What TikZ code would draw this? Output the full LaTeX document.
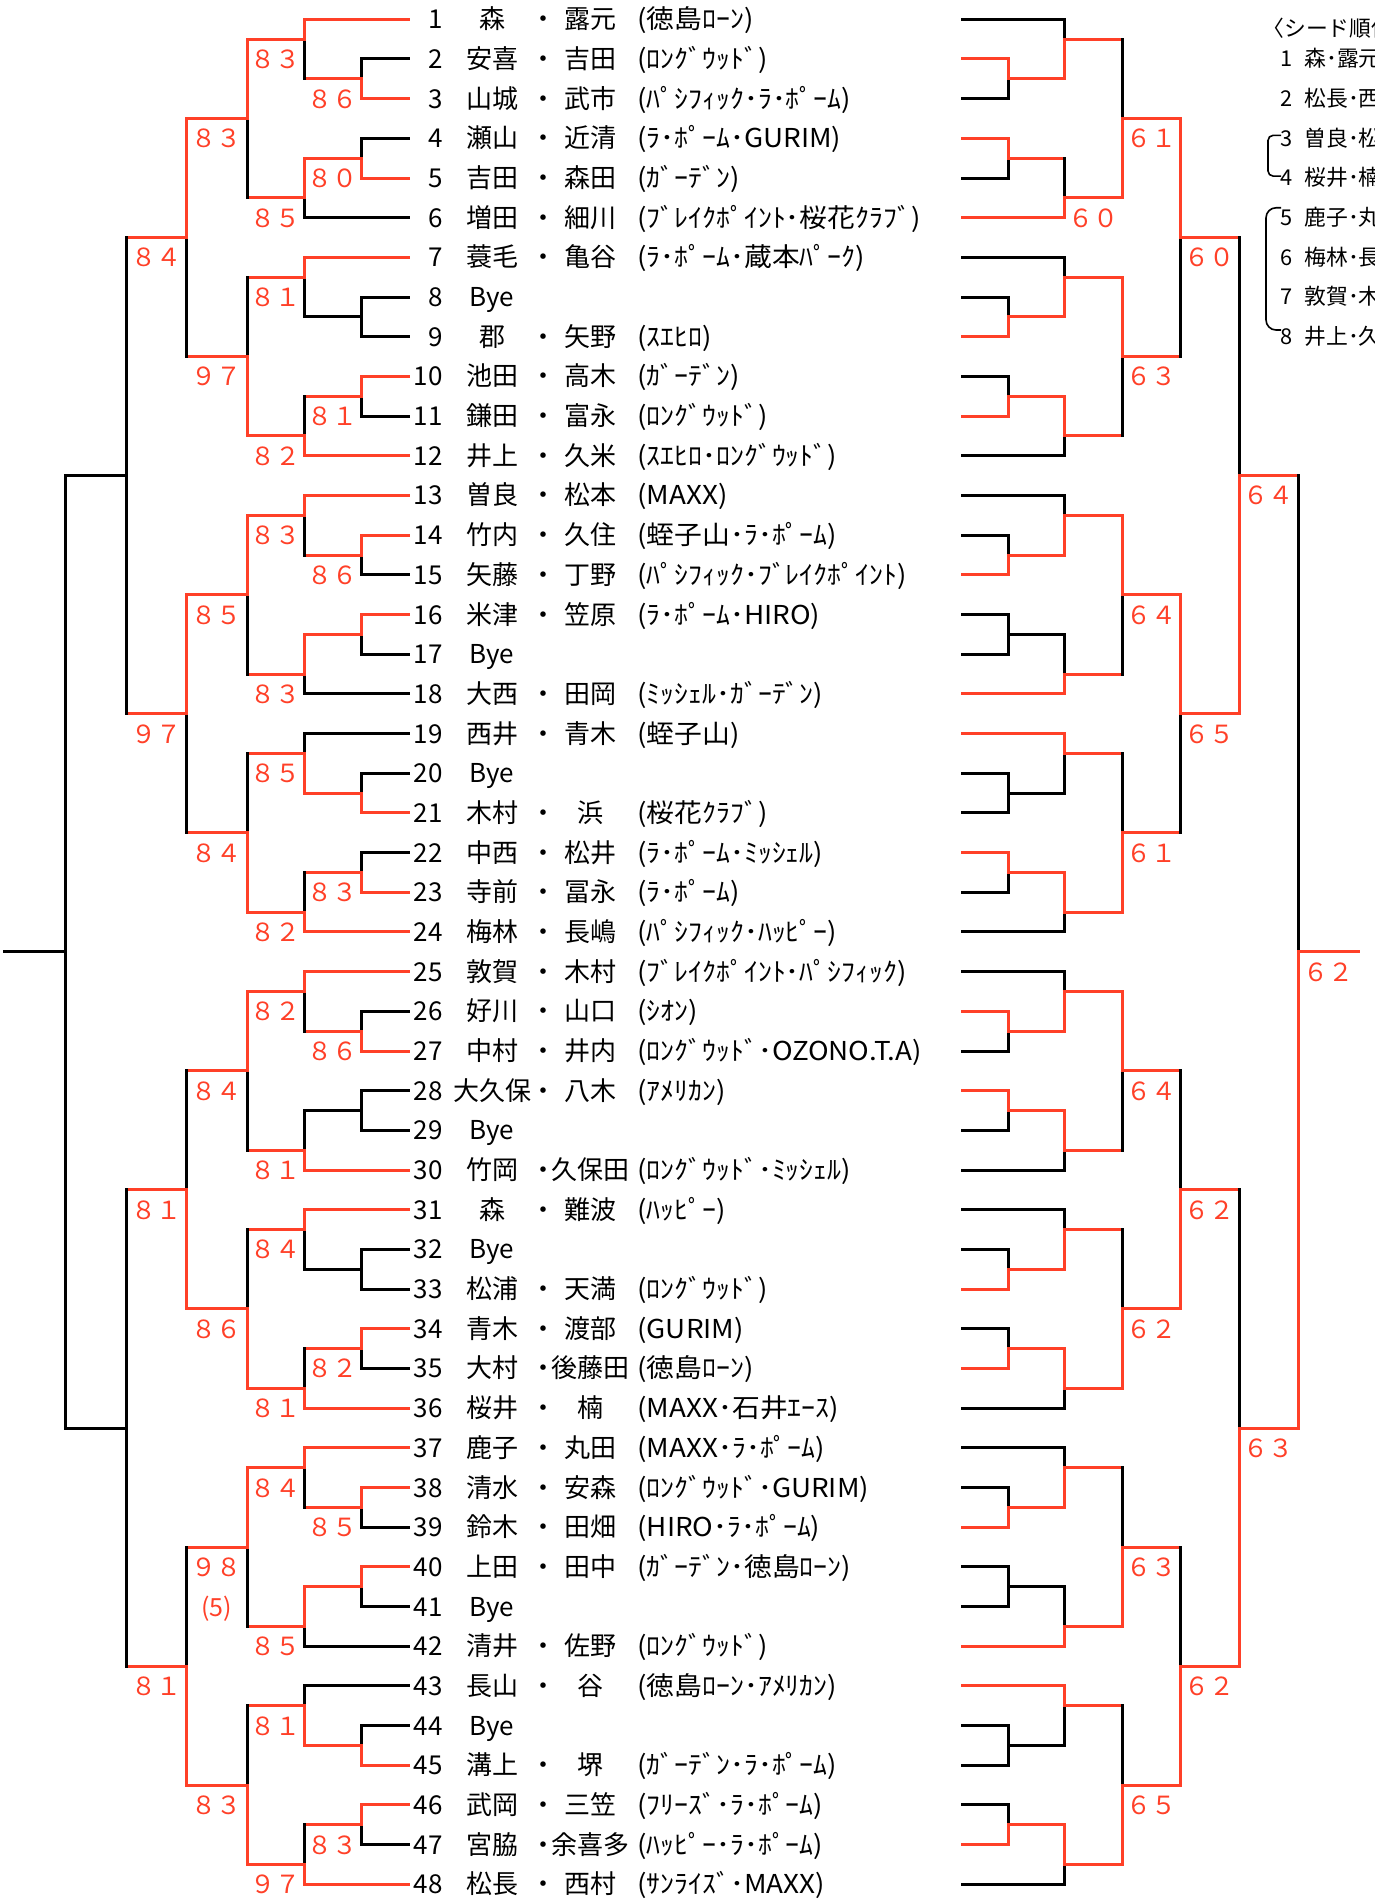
\documentclass[tikz,border=0pt]{standalone}
\usepackage{fontspec}
\setmainfont{Noto Sans CJK JP}
\newfontfamily\clubfont{Noto Sans CJK JP}[FakeStretch=1.07]
\usepackage{xcolor}
\usepackage{tikz}
\definecolor{winred}{HTML}{FF4028}
\colorlet{W}{winred}
\colorlet{L}{black}
\def\scnone{-}
\newcount\scorecnt

% one match: vertical x, next round x, top k, out k, bottom k, winner t/b/n, score
\newcommand\match[7]{%
  \def\ctop{black}\def\cbot{black}\def\cout{black}%
  \if t#6\def\ctop{winred}\def\cout{winred}\fi
  \if b#6\def\cbot{winred}\def\cout{winred}\fi
  \draw[bline, color=\ctop] (#1,#3) -- (#1,#4);
  \draw[bline, color=\cbot] (#1,#4) -- (#1,#5);
  \draw[bline, color=\cout] (#1,#4) -- (#2,#4);
  \edef\sctmp{#7}%
  \ifx\sctmp\scnone\else
    \global\advance\scorecnt by 1
    \node[score] (sc\the\scorecnt) at ({(#1+#2)/2},{#4+1}) {#7};
  \fi
}

\begin{document}
\begin{tikzpicture}[x=0.5pt, y=-9.92pt,
  bline/.style={line width=1.5pt, line cap=rect},
  txt/.style={inner sep=0pt, anchor=base, yshift=-4.75pt, font=\fontsize{13}{15}\selectfont},
  clubtxt/.style={txt, anchor=base west, font=\fontsize{13}{15}\clubfont},
  score/.style={txt, text=winred, font=\fontsize{12.5}{15}\selectfont},
  seedtxt/.style={inner sep=0pt, anchor=base, yshift=-3.9pt, font=\fontsize{10.9}{13}\selectfont},
  seedbrace/.style={line width=0.8pt, rounded corners=2.5pt}
]
\useasboundingbox (0,-0.973) rectangle (1374,94.74);

% entries: number / first / dot / second / club / left colour / right colour
\foreach \nr/\fa/\sep/\fb/\club/\lcol/\rcol in {
 1/森/・/露元/(徳島ﾛｰﾝ)/W/L,
 2/安喜/・/吉田/(ﾛﾝｸﾞｳｯﾄﾞ)/L/W,
 3/山城/・/武市/(ﾊﾟｼﾌｨｯｸ･ﾗ･ﾎﾟｰﾑ)/W/L,
 4/瀬山/・/近清/(ﾗ･ﾎﾟｰﾑ･GURIM)/L/W,
 5/吉田/・/森田/(ｶﾞｰﾃﾞﾝ)/W/L,
 6/増田/・/細川/(ﾌﾞﾚｲｸﾎﾟｲﾝﾄ･桜花ｸﾗﾌﾞ)/L/W,
 7/蓑毛/・/亀谷/(ﾗ･ﾎﾟｰﾑ･蔵本ﾊﾟｰｸ)/W/L,
 8/Bye/{}/{}/{}/L/L,
 9/郡/・/矢野/(ｽｴﾋﾛ)/L/W,
 10/池田/・/高木/(ｶﾞｰﾃﾞﾝ)/W/L,
 11/鎌田/・/富永/(ﾛﾝｸﾞｳｯﾄﾞ)/L/W,
 12/井上/・/久米/(ｽｴﾋﾛ･ﾛﾝｸﾞｳｯﾄﾞ)/W/L,
 13/曽良/・/松本/(MAXX)/W/L,
 14/竹内/・/久住/(蛭子山･ﾗ･ﾎﾟｰﾑ)/W/L,
 15/矢藤/・/丁野/(ﾊﾟｼﾌｨｯｸ･ﾌﾞﾚｲｸﾎﾟｲﾝﾄ)/L/W,
 16/米津/・/笠原/(ﾗ･ﾎﾟｰﾑ･HIRO)/W/L,
 17/Bye/{}/{}/{}/L/L,
 18/大西/・/田岡/(ﾐｯｼｪﾙ･ｶﾞｰﾃﾞﾝ)/L/W,
 19/西井/・/青木/(蛭子山)/L/W,
 20/Bye/{}/{}/{}/L/L,
 21/木村/・/浜/(桜花ｸﾗﾌﾞ)/W/L,
 22/中西/・/松井/(ﾗ･ﾎﾟｰﾑ･ﾐｯｼｪﾙ)/L/W,
 23/寺前/・/冨永/(ﾗ･ﾎﾟｰﾑ)/W/L,
 24/梅林/・/長嶋/(ﾊﾟｼﾌｨｯｸ･ﾊｯﾋﾟｰ)/W/L,
 25/敦賀/・/木村/(ﾌﾞﾚｲｸﾎﾟｲﾝﾄ･ﾊﾟｼﾌｨｯｸ)/W/L,
 26/好川/・/山口/(ｼｵﾝ)/L/W,
 27/中村/・/井内/(ﾛﾝｸﾞｳｯﾄﾞ･OZONO.T.A)/W/L,
 28/大久保/・/八木/(ｱﾒﾘｶﾝ)/L/W,
 29/Bye/{}/{}/{}/L/L,
 30/竹岡/・/久保田/(ﾛﾝｸﾞｳｯﾄﾞ･ﾐｯｼｪﾙ)/W/L,
 31/森/・/難波/(ﾊｯﾋﾟｰ)/W/L,
 32/Bye/{}/{}/{}/L/L,
 33/松浦/・/天満/(ﾛﾝｸﾞｳｯﾄﾞ)/L/W,
 34/青木/・/渡部/(GURIM)/W/L,
 35/大村/・/後藤田/(徳島ﾛｰﾝ)/L/W,
 36/桜井/・/楠/(MAXX･石井ｴｰｽ)/W/L,
 37/鹿子/・/丸田/(MAXX･ﾗ･ﾎﾟｰﾑ)/W/L,
 38/清水/・/安森/(ﾛﾝｸﾞｳｯﾄﾞ･GURIM)/W/L,
 39/鈴木/・/田畑/(HIRO･ﾗ･ﾎﾟｰﾑ)/L/W,
 40/上田/・/田中/(ｶﾞｰﾃﾞﾝ･徳島ﾛｰﾝ)/W/L,
 41/Bye/{}/{}/{}/L/L,
 42/清井/・/佐野/(ﾛﾝｸﾞｳｯﾄﾞ)/L/W,
 43/長山/・/谷/(徳島ﾛｰﾝ･ｱﾒﾘｶﾝ)/L/W,
 44/Bye/{}/{}/{}/L/L,
 45/溝上/・/堺/(ｶﾞｰﾃﾞﾝ･ﾗ･ﾎﾟｰﾑ)/W/L,
 46/武岡/・/三笠/(ﾌﾘｰｽﾞ･ﾗ･ﾎﾟｰﾑ)/W/L,
 47/宮脇/・/余喜多/(ﾊｯﾋﾟｰ･ﾗ･ﾎﾟｰﾑ)/L/W,
 48/松長/・/西村/(ｻﾝﾗｲｽﾞ･MAXX)/W/L}
{
  \pgfmathtruncatemacro\k{2*(\nr-1)}
  \pgfmathtruncatemacro\pos{mod(\nr-1,6)}
  \pgfmathsetmacro\xl{(\pos==0||\pos==5)?304:361}
  \pgfmathsetmacro\xr{(\pos==0||\pos==5)?1064:1008}
  \draw[bline, color=\lcol] (\xl,\k) -- (408,\k);
  \draw[bline, color=\rcol] (962,\k) -- (\xr,\k);
  \node[txt, anchor=base east] (num\nr) at (443,\k) {\nr};
  \node[txt] (fa\nr) at (492,\k) {\fa};
  \node[txt] (dot\nr) at (543,\k) {\sep};
  \node[txt] (fb\nr) at (590,\k) {\fb};
  \node[clubtxt] (club\nr) at (637,\k) {\club};
}

% left draw, blocks of six
\foreach \k/\ua/\qa/\ub/\qb/\uc/\qc/\ud/\qd/\ue/\qe in {
  0/b/８６/t/８３/b/８０/t/８５/t/８３,
  12/n/-/t/８１/t/８１/b/８２/b/９７,
  24/t/８６/t/８３/t/-/t/８３/t/８５,
  36/b/-/b/８５/b/８３/b/８２/b/８４,
  48/b/８６/t/８２/n/-/b/８１/t/８４,
  60/n/-/t/８４/t/８２/b/８１/b/８６,
  72/t/８５/t/８４/t/-/t/８５/t/９８,
  84/b/-/b/８１/t/８３/b/９７/b/８３}
{
  \match{361}{304}{\k+2}{\k+3}{\k+4}{\ua}{\qa}
  \match{304}{247}{\k}{\k+1}{\k+3}{\ub}{\qb}
  \match{361}{304}{\k+6}{\k+7}{\k+8}{\uc}{\qc}
  \match{304}{247}{\k+7}{\k+9}{\k+10}{\ud}{\qd}
  \match{247}{186}{\k+1}{\k+5}{\k+9}{\ue}{\qe}
}
\foreach \g/\w/\q in {0/t/８４, 24/t/９７, 48/b/８１, 72/b/８１}
  {\match{186}{126}{\g+5}{\g+11}{\g+17}{\w}{\q}}
\match{126}{65}{11}{23}{35}{n}{-}
\match{126}{65}{59}{71}{83}{n}{-}
\match{65}{4}{23}{47}{71}{n}{-}
\node[score] (sc98note) at (216.5,80) {(5)};

% right draw, blocks of six
\foreach \k/\ua/\qa/\ub/\qb/\uc/\qc/\ud/\qd/\ue/\qe in {
  0/t/-/b/-/t/-/b/６０/b/６１,
  12/b/-/b/-/b/-/t/-/t/６３,
  24/b/-/b/-/n/-/b/-/t/６４,
  36/n/-/t/-/t/-/t/-/b/６１,
  48/t/-/b/-/t/-/t/-/t/６４,
  60/b/-/b/-/b/-/t/-/b/６２,
  72/b/-/b/-/n/-/b/-/b/６３,
  84/n/-/t/-/b/-/t/-/b/６５}
{
  \match{1008}{1064}{\k+2}{\k+3}{\k+4}{\ua}{\qa}
  \match{1064}{1122}{\k}{\k+1}{\k+3}{\ub}{\qb}
  \match{1008}{1064}{\k+6}{\k+7}{\k+8}{\uc}{\qc}
  \match{1064}{1122}{\k+7}{\k+9}{\k+10}{\ud}{\qd}
  \match{1122}{1180}{\k+1}{\k+5}{\k+9}{\ue}{\qe}
}
\foreach \g/\w/\q in {0/t/６０, 24/t/６５, 48/b/６２, 72/b/６２}
  {\match{1180}{1239}{\g+5}{\g+11}{\g+17}{\w}{\q}}
\match{1239}{1298}{11}{23}{35}{b}{６４}
\match{1239}{1298}{59}{71}{83}{b}{６３}
\match{1298}{1358}{23}{47}{71}{b}{６２}

% seeds
\node[seedtxt, anchor=base west] (seedhead) at (1262,0.45) {〈シード順位〉};
\foreach \i/\nm in {1/森･露元, 2/松長･西村, 3/曽良･松本, 4/桜井･楠,
                    5/鹿子･丸田, 6/梅林･長嶋, 7/敦賀･木村, 8/井上･久米}{
  \node[seedtxt, anchor=base east] (seednum\i) at (1293,2*\i) {\i};
  \node[seedtxt, anchor=base west] (seed\i) at (1304,2*\i) {\nm};
}
\draw[seedbrace] (1281,5.85) -- (1268,5.85) -- (1268,7.9) -- (1281,7.9);
\draw[seedbrace, rounded corners=5pt] (1281,9.5) -- (1266,9.5) -- (1266,15.66) -- (1281,15.66);
\end{tikzpicture}
\end{document}
